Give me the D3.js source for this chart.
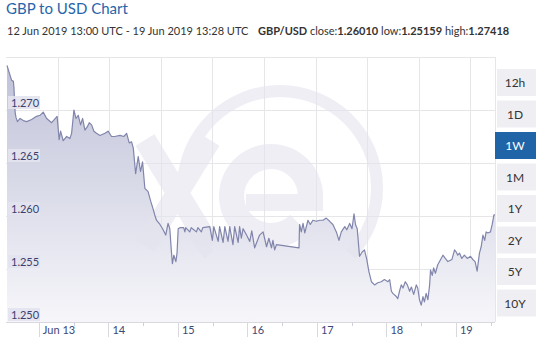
<!DOCTYPE html>
<html>
<head>
<meta charset="utf-8">
<script src="https://cdn.jsdelivr.net/npm/d3@7"></script>
<style>
  body { margin: 0; background: #fff; }
  svg { display: block; font-family: Lato, "Open Sans", sans-serif; }
</style>
</head>
<body>
<div id="chart"></div>
<script>
// hours since 12 Jun 2019 13:00 UTC
var hours = [0, 1.6, 2.2, 2.4, 2.8, 3.1, 3.6, 4.5, 5.6, 6.8, 8.5, 10.2, 11.4, 12.5, 13.7, 15.4, 17.3, 18.0, 18.5, 19.4,
  20.6, 21.7, 22.3, 23.1, 23.8, 24.6, 25.4, 26.1, 26.9, 27.7, 28.4, 29.2, 30.0, 30.9, 32.1, 33.8, 34.9, 36.1, 37.2, 39.0,
  40.3, 41.3, 42.2, 43.0, 43.6, 44.4, 45.3, 46.1, 46.8, 47.6, 48.7, 49.6, 50.4, 51.0, 51.6, 52.8, 53.7, 54.8, 55.6, 56.2,
  56.8, 57.1, 57.6, 58.3, 58.7, 59.1, 59.7, 61.0, 61.4, 61.7, 63.1, 63.6, 65.4, 65.9, 67.1, 67.6, 70.0, 70.9, 71.4, 72.9,
  73.4, 74.6, 75.2, 76.3, 76.9, 78.0, 78.6, 79.8, 80.3, 80.9, 81.5, 82.7, 83.8, 84.5, 85.5, 87.2, 88.4, 89.6, 90.4, 91.3,
  91.8, 92.4, 93.0, 100.8, 101.0, 101.6, 102.2, 102.8, 103.9, 104.7, 105.6, 106.8, 107.9, 109.1, 110.2, 111.4, 112.5, 113.7, 114.6, 115.4,
  116.6, 117.3, 118.3, 119.1, 119.8, 120.3, 120.9, 121.7, 122.6, 123.4, 124.2, 124.9, 125.8, 126.9, 128.0, 129.2, 130.3, 131.5, 132.1, 132.7,
  133.2, 134.4, 134.9, 135.5, 136.1, 136.7, 137.5, 138.2, 139.0, 139.6, 140.4, 141.3, 141.8, 142.4, 143.0, 143.6, 144.1, 144.7, 145.3, 145.9,
  146.2, 146.8, 147.3, 147.9, 148.7, 149.7, 150.5, 151.3, 152.2, 153.6, 154.5, 155.1, 155.6, 156.2, 157.0, 157.9, 158.9, 160.0, 160.8, 161.6,
  162.3, 163.1, 163.7, 164.3, 164.9, 165.4, 166.0, 166.9, 167.5, 168.1, 168.47];

var rates = [1.2742, 1.2728, 1.2727, 1.2721, 1.2698, 1.2693, 1.2689, 1.2692, 1.2690, 1.2689, 1.2691, 1.2694, 1.2695, 1.2698, 1.2692, 1.2688, 1.2694, 1.2672, 1.2680, 1.2671,
  1.2675, 1.2673, 1.2678, 1.2700, 1.2692, 1.2695, 1.2686, 1.2692, 1.2681, 1.2684, 1.2688, 1.2686, 1.2680, 1.2678, 1.2676, 1.2678, 1.2680, 1.2675, 1.2675, 1.2676,
  1.2675, 1.2678, 1.2669, 1.2670, 1.2664, 1.2640, 1.2656, 1.2642, 1.2651, 1.2626, 1.2623, 1.2614, 1.2607, 1.2601, 1.2596, 1.2592, 1.2588, 1.2582, 1.2593, 1.2588,
  1.2565, 1.2555, 1.2563, 1.2557, 1.2565, 1.2588, 1.2589, 1.2589, 1.2585, 1.2589, 1.2585, 1.2589, 1.2585, 1.2589, 1.2585, 1.2589, 1.2590, 1.2577, 1.2590, 1.2576,
  1.2590, 1.2575, 1.2590, 1.2576, 1.2590, 1.2573, 1.2590, 1.2575, 1.2590, 1.2579, 1.2588, 1.2582, 1.2576, 1.2586, 1.2570, 1.2582, 1.2585, 1.2571, 1.2579, 1.2570,
  1.2577, 1.2568, 1.2573, 1.2570, 1.2592, 1.2585, 1.2593, 1.2584, 1.2596, 1.2592, 1.2596, 1.2595, 1.2596, 1.2596, 1.2598, 1.2595, 1.2592, 1.2585, 1.2577, 1.2585,
  1.2590, 1.2587, 1.2593, 1.2588, 1.2602, 1.2592, 1.2588, 1.2562, 1.2566, 1.2568, 1.2559, 1.2548, 1.2538, 1.2535, 1.2537, 1.2538, 1.2540, 1.2538, 1.2540, 1.2529,
  1.2527, 1.2524, 1.2522, 1.2529, 1.2535, 1.2532, 1.2538, 1.2535, 1.2529, 1.2533, 1.2526, 1.2535, 1.2532, 1.2521, 1.25159, 1.2524, 1.2519, 1.2527, 1.2521, 1.2535,
  1.2549, 1.2544, 1.2551, 1.2546, 1.2554, 1.2559, 1.2563, 1.2560, 1.2557, 1.2559, 1.2568, 1.2566, 1.2563, 1.2565, 1.2560, 1.2563, 1.2560, 1.2562, 1.2559, 1.2557,
  1.2548, 1.2565, 1.2571, 1.2582, 1.2577, 1.2585, 1.2584, 1.2585, 1.2592, 1.2601, 1.26010];

var yTicks = [1.250, 1.255, 1.260, 1.265, 1.270];
var dayLabels = ["Jun 13", "14", "15", "16", "17", "18", "19"];
var ranges = ["12h", "1D", "1W", "1M", "1Y", "2Y", "5Y", "10Y"];
var activeRange = "1W";
var statParts = [["GBP/USD ", true], ["close:", false], ["1.26010", true], [" low:", false], ["1.25159", true],
  [" high:", false], ["1.27418", true]];

var startTime = Date.UTC(2019, 5, 12, 13, 0);
var endTime = Date.UTC(2019, 5, 19, 13, 28);

var W = 539, H = 343;
var plotL = 7, plotR = 495, plotT = 57, plotB = 322;

var svg = d3.select("#chart").append("svg")
    .attr("width", W)
    .attr("height", H);

// header
svg.append("text")
    .attr("x", 6).attr("y", 14)
    .attr("fill", "#2765ab")
    .style("font-size", "15px")
    .text("GBP to USD Chart");

svg.append("text")
    .attr("x", 7).attr("y", 35)
    .attr("fill", "#333")
    .style("font-size", "11px")
    .text("12 Jun 2019 13:00 UTC - 19 Jun 2019 13:28 UTC");

var stats = svg.append("text")
    .attr("x", 258).attr("y", 35)
    .attr("fill", "#333")
    .style("font-size", "11px");
statParts.forEach(function(p) {
  stats.append("tspan").style("font-weight", p[1] ? "bold" : "normal").text(p[0]);
});

var x = d3.scaleUtc()
    .domain([startTime, endTime])
    .range([plotL, plotR]);

var y = d3.scaleLinear()
    .domain([1.250, 1.275])
    .range([plotB, plotT]);

var data = hours.map(function(h, i) {
  return { t: new Date(startTime + h * 3600000), v: rates[i] };
});

var defs = svg.append("defs");
var grad = defs.append("linearGradient")
    .attr("id", "areaFill")
    .attr("gradientUnits", "userSpaceOnUse")
    .attr("x1", 0).attr("y1", plotT).attr("x2", 0).attr("y2", plotB);
grad.append("stop").attr("offset", "0%").attr("stop-color", "#bec0d7");
grad.append("stop").attr("offset", "100%").attr("stop-color", "#f6f6fa");

// grid
var grid = svg.append("g").attr("stroke", "#e6e6e9").attr("stroke-width", 1);
grid.selectAll(".hg")
    .data(d3.range(1.250, 1.2751, 0.005))
    .enter().append("line")
    .attr("x1", plotL - 1).attr("x2", plotR)
    .attr("y1", function(d) { return Math.round(y(d)) + 0.5; })
    .attr("y2", function(d) { return Math.round(y(d)) + 0.5; });

var gridStep = 51.6;
grid.selectAll(".vg")
    .data(d3.range(1, 10))
    .enter().append("line")
    .attr("x1", function(i) { return Math.round(plotL - 1 + i * gridStep) + 0.5; })
    .attr("x2", function(i) { return Math.round(plotL - 1 + i * gridStep) + 0.5; })
    .attr("y1", plotT).attr("y2", plotB);
grid.append("line")
    .attr("x1", plotR + 0.5).attr("x2", plotR + 0.5)
    .attr("y1", plotT).attr("y2", plotB);

// area + line
var area = d3.area()
    .x(function(d) { return x(d.t); })
    .y0(plotB)
    .y1(function(d) { return y(d.v); });

svg.append("path")
    .datum(data)
    .attr("fill", "url(#areaFill)")
    .attr("d", area);

// xe watermark
var wmColor = "#e4e4ee";
var wm = svg.append("g")
    .attr("fill", wmColor)
    .attr("opacity", 0.6);
var ringArc = d3.arc().innerRadius(91).outerRadius(103);
wm.append("path")
    .attr("transform", "translate(280,188)")
    .attr("d", ringArc({ startAngle: -0.74 * Math.PI, endAngle: 0.74 * Math.PI }));
var eArc = d3.arc().innerRadius(27).outerRadius(52);
wm.append("path")
    .attr("transform", "translate(271,196)")
    .attr("d", eArc({ startAngle: 2.35, endAngle: 2 * Math.PI + Math.PI / 2 }));
wm.append("rect")
    .attr("x", 246).attr("y", 194).attr("width", 77).attr("height", 17);
wm.append("path")
    .attr("stroke", wmColor).attr("stroke-width", 22).attr("fill", "none")
    .attr("d", "M145,140L210,246M210,140L145,246");

svg.append("path")
    .datum(data)
    .attr("fill", "none")
    .attr("stroke", "#8185ac")
    .attr("stroke-width", 1.2)
    .attr("stroke-linejoin", "round")
    .attr("d", d3.line().x(function(d) { return x(d.t); }).y(function(d) { return y(d.v); }));

// y labels
var yl = svg.append("g");
yl.selectAll("rect")
    .data(yTicks)
    .enter().append("rect")
    .attr("x", 8).attr("width", 32)
    .attr("y", function(d) { return y(d) - 14; })
    .attr("height", 13)
    .attr("fill", "#e2e3ee").attr("opacity", 0.9);
yl.selectAll("text")
    .data(yTicks)
    .enter().append("text")
    .attr("x", 11)
    .attr("y", function(d) { return y(d) - 3; })
    .attr("fill", "#3a3f6e")
    .style("font-size", "11px")
    .text(d3.format(".3f"));

// x axis
svg.append("line")
    .attr("x1", plotL - 1).attr("x2", plotR)
    .attr("y1", plotB + 0.5).attr("y2", plotB + 0.5)
    .attr("stroke", "#d8d8de");

var days = d3.utcDay.range(new Date(Date.UTC(2019, 5, 13)), new Date(endTime));
var noons = d3.utcHour.range(new Date(startTime), new Date(endTime))
    .filter(function(d) { return d.getUTCHours() === 12; });

svg.selectAll(".noon")
    .data(noons)
    .enter().append("line")
    .attr("x1", function(d) { return Math.round(x(d)) + 0.5; })
    .attr("x2", function(d) { return Math.round(x(d)) + 0.5; })
    .attr("y1", plotB).attr("y2", plotB + 4)
    .attr("stroke", "#d0d0d8");

svg.selectAll(".day")
    .data(days)
    .enter().append("line")
    .attr("x1", function(d) { return Math.round(x(d)) + 0.5; })
    .attr("x2", function(d) { return Math.round(x(d)) + 0.5; })
    .attr("y1", plotB).attr("y2", plotB + 15)
    .attr("stroke", "#d8d8de");

svg.selectAll(".dayLabel")
    .data(days)
    .enter().append("text")
    .attr("x", function(d) { return x(d) + 4; })
    .attr("y", plotB + 12)
    .attr("fill", "#3d4878")
    .style("font-size", "11px")
    .text(function(d, i) { return dayLabels[i]; });

// range buttons
var btn = svg.selectAll(".btn")
    .data(ranges)
    .enter().append("g")
    .attr("transform", function(d, i) { return "translate(497," + (69 + i * 31.5) + ")"; });
btn.append("rect")
    .attr("x", function(d) { return d === activeRange ? -2 : 0; })
    .attr("width", function(d) { return d === activeRange ? 41 : 39; })
    .attr("height", 27)
    .attr("fill", function(d) { return d === activeRange ? "#1f64a6" : "#efeff3"; });
btn.append("text")
    .attr("x", 18).attr("y", 18)
    .attr("text-anchor", "middle")
    .attr("fill", function(d) { return d === activeRange ? "#fff" : "#333"; })
    .style("font-size", "12px")
    .text(function(d) { return d; });
</script>
</body>
</html>
